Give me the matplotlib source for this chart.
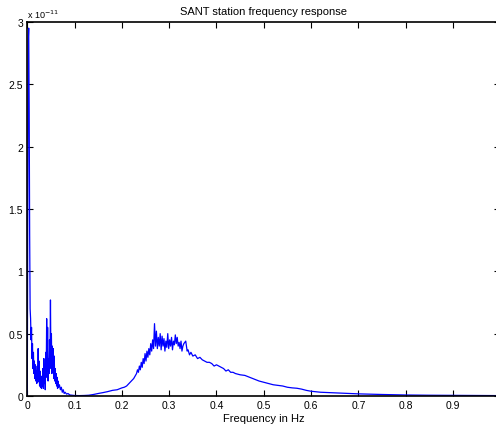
import matplotlib
matplotlib.use("Agg")
import matplotlib.pyplot as plt

plt.rcParams['font.family'] = ['Liberation Sans', 'DejaVu Sans']

# spectrum of the SANT station, amplitude in units of 1e-11
freq_lo = [0.000, 0.002, 0.003, 0.004, 0.005, 0.006, 0.007, 0.008, 0.009, 0.010,
           0.011, 0.012, 0.013, 0.014, 0.015, 0.016, 0.017, 0.018, 0.019, 0.020,
           0.021, 0.022, 0.023, 0.024, 0.025, 0.026, 0.027, 0.028, 0.029, 0.030,
           0.031, 0.032, 0.033, 0.034, 0.035, 0.036, 0.037, 0.038, 0.039, 0.040,
           0.041, 0.042, 0.043, 0.044, 0.045, 0.046, 0.047, 0.048, 0.049, 0.050,
           0.051, 0.052, 0.053, 0.054, 0.055, 0.056, 0.057, 0.058, 0.059, 0.060,
           0.061, 0.062, 0.063, 0.064, 0.065, 0.066, 0.068, 0.070, 0.072, 0.074,
           0.076, 0.078, 0.080, 0.083, 0.086, 0.090, 0.095, 0.100, 0.110, 0.120,
           0.130, 0.140, 0.150, 0.160, 0.170, 0.180, 0.190, 0.200]
amp_lo = [0.00, 2.85, 2.95, 2.30, 1.30, 0.70, 0.62, 0.45, 0.55, 0.30,
          0.42, 0.22, 0.35, 0.18, 0.28, 0.14, 0.25, 0.12, 0.20, 0.10,
          0.24, 0.11, 0.38, 0.12, 0.28, 0.08, 0.20, 0.07, 0.16, 0.06,
          0.14, 0.08, 0.22, 0.06, 0.30, 0.10, 0.25, 0.05, 0.35, 0.15,
          0.62, 0.20, 0.55, 0.12, 0.30, 0.18, 0.45, 0.22, 0.77, 0.25,
          0.50, 0.18, 0.40, 0.20, 0.38, 0.14, 0.32, 0.12, 0.22, 0.10,
          0.18, 0.08, 0.15, 0.06, 0.12, 0.07, 0.09, 0.05, 0.07, 0.03,
          0.05, 0.02, 0.03, 0.015, 0.02, 0.008, 0.006, 0.004, 0.003, 0.004,
          0.006, 0.012, 0.020, 0.027, 0.035, 0.045, 0.050, 0.065]

freq_mid = [0.205, 0.210, 0.215, 0.220, 0.225, 0.228, 0.231, 0.233, 0.235, 0.237,
            0.239, 0.241, 0.243, 0.245, 0.247, 0.249, 0.251, 0.253, 0.255, 0.257,
            0.259, 0.261, 0.263, 0.265, 0.267, 0.269, 0.271, 0.273, 0.275, 0.277,
            0.279, 0.281, 0.283, 0.285, 0.287, 0.289, 0.291, 0.293, 0.295, 0.297,
            0.299, 0.301, 0.303, 0.305, 0.307, 0.309, 0.311, 0.313, 0.315, 0.317,
            0.319, 0.321, 0.323, 0.325, 0.327, 0.329, 0.331, 0.335, 0.338, 0.340,
            0.343, 0.346, 0.350]
amp_mid = [0.07, 0.08, 0.10, 0.12, 0.14, 0.16, 0.18, 0.21, 0.19, 0.24,
           0.21, 0.27, 0.23, 0.30, 0.26, 0.34, 0.28, 0.36, 0.31, 0.38,
           0.33, 0.42, 0.36, 0.45, 0.38, 0.58, 0.40, 0.52, 0.38, 0.47,
           0.40, 0.50, 0.37, 0.48, 0.40, 0.46, 0.36, 0.44, 0.39, 0.50,
           0.38, 0.45, 0.40, 0.47, 0.37, 0.44, 0.41, 0.49, 0.42, 0.47,
           0.40, 0.43, 0.38, 0.44, 0.36, 0.40, 0.42, 0.44, 0.36, 0.37,
           0.33, 0.35, 0.32]

freq_hi = [0.355, 0.360, 0.365, 0.370, 0.375, 0.380, 0.385, 0.390, 0.395, 0.400,
           0.405, 0.410, 0.415, 0.420, 0.425, 0.430, 0.435, 0.440, 0.450, 0.460,
           0.470, 0.480, 0.490, 0.500, 0.510, 0.520, 0.530, 0.540, 0.550, 0.560,
           0.570, 0.580, 0.590, 0.600, 0.620, 0.650, 0.680, 0.700, 0.750, 0.800,
           0.850, 0.900, 0.950, 1.000]
amp_hi = [0.33, 0.30, 0.31, 0.29, 0.28, 0.27, 0.27, 0.26, 0.24, 0.25,
          0.24, 0.23, 0.22, 0.20, 0.21, 0.19, 0.19, 0.18, 0.17, 0.165,
          0.15, 0.135, 0.12, 0.11, 0.10, 0.09, 0.085, 0.08, 0.07, 0.065,
          0.062, 0.055, 0.045, 0.038, 0.030, 0.025, 0.020, 0.017, 0.012, 0.008,
          0.006, 0.005, 0.004, 0.003]

freq = freq_lo + freq_mid + freq_hi
amp = amp_lo + amp_mid + amp_hi

xticks = [0, 0.1, 0.2, 0.3, 0.4, 0.5, 0.6, 0.7, 0.8, 0.9]
xticklabels = ['0', '0.1', '0.2', '0.3', '0.4', '0.5', '0.6', '0.7', '0.8', '0.9']
yticks = [0, 0.5, 1, 1.5, 2, 2.5, 3]
yticklabels = ['0', '0.5', '1', '1.5', '2', '2.5', '3']

fig = plt.figure(figsize=(4.96, 4.27), dpi=100)
ax = fig.add_axes([0.055, 0.0703, 0.9536, 0.876])
ax.plot(freq, amp, color='#0000ff', lw=0.9)

ax.set_xlim(0, 1)
ax.set_ylim(0, 3)
ax.set_xticks(xticks)
ax.set_xticklabels(xticklabels)
ax.set_yticks(yticks)
ax.set_yticklabels(yticklabels)
ax.tick_params(direction='in', length=4, width=0.8, labelsize=7.5,
               top=True, right=True, pad=3)
for s in ax.spines.values():
    s.set_linewidth(1.2)

ax.text(0.0, 1.005, r'x 10$^{-11}$', transform=ax.transAxes,
        ha='left', va='bottom', fontsize=6.5)
ax.set_title('SANT station frequency response', fontsize=8, pad=6)
ax.set_xlabel('Frequency in Hz', fontsize=8, labelpad=2)

fig.savefig('out.png', dpi=100)
